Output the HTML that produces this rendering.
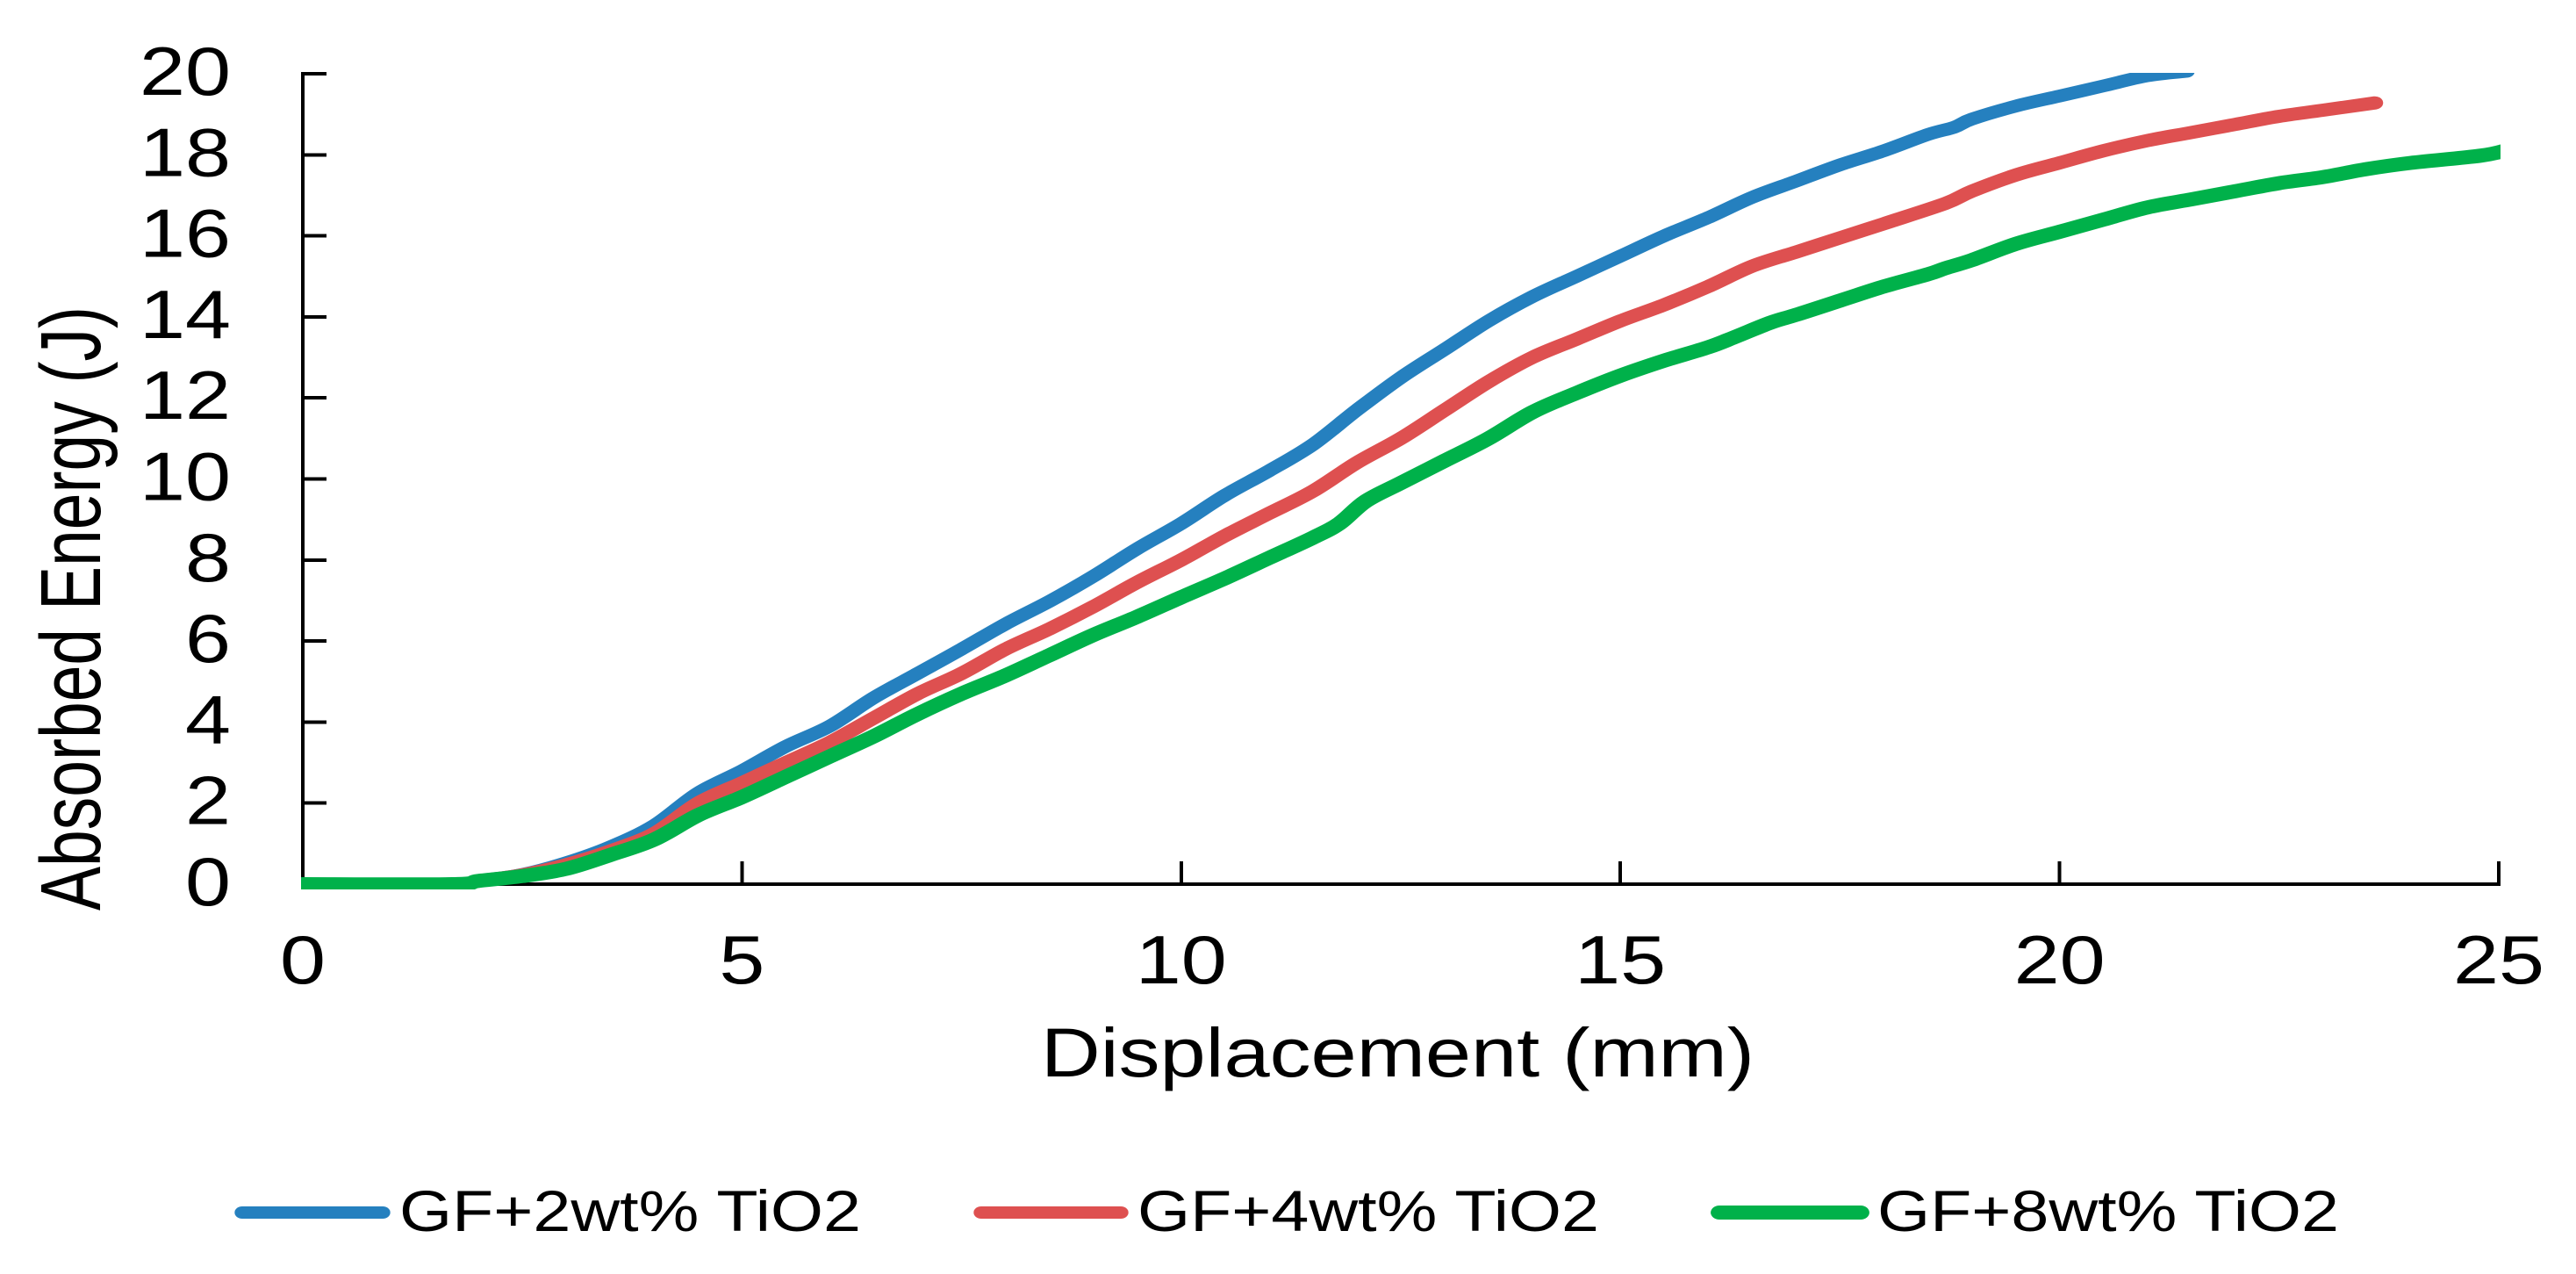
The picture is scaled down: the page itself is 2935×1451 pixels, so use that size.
<!DOCTYPE html>
<html><head><meta charset="utf-8"><title>Absorbed Energy vs Displacement</title>
<style>html,body{margin:0;padding:0;background:#fff;width:2935px;height:1451px;overflow:hidden}svg{display:block}text{font-family:"Liberation Sans",Arial,sans-serif;fill:#000}</style></head>
<body>
<svg id="chart" xmlns="http://www.w3.org/2000/svg" width="2935" height="1451" viewBox="0 0 2935 1451">
<defs><clipPath id="plot-clip"><rect x="343" y="83" width="2506" height="930"/></clipPath></defs>
<g id="axes" shape-rendering="crispEdges"></g>
<g clip-path="url(#plot-clip)"><g id="series" transform="scale(1.24,1)"></g></g>
<g id="labels"></g>
<g id="legend"></g>
</svg>
<script>
const xTicks = [0, 5, 10, 15, 20, 25];
const yTicks = [0, 2, 4, 6, 8, 10, 12, 14, 16, 18, 20];
const blueX = [0,1.7,2,2.5,3,3.5,4,4.5,5,5.5,6,6.5,7,7.5,8,8.5,9,9.5,10,10.5,11,11.5,12,12.5,13,13.5,14,14.5,15,15.5,16,16.5,17,17.5,18,18.5,18.8,19,19.5,20,20.5,21,21.45];
const blueY = [0,0,0.08,0.24,0.53,0.92,1.45,2.25,2.8,3.4,3.9,4.6,5.2,5.8,6.42,6.98,7.6,8.28,8.9,9.6,10.2,10.85,11.7,12.5,13.2,13.9,14.5,15,15.5,16,16.45,16.95,17.35,17.75,18.1,18.5,18.68,18.88,19.2,19.45,19.7,19.95,20.06];
const redX = [0,1.7,2,2.5,3,3.5,4,4.5,5,5.5,6,6.5,7,7.5,8,8.5,9,9.5,10,10.5,11,11.5,12,12.5,13,13.5,14,14.5,15,15.5,16,16.5,17,17.5,18,18.7,19,19.5,20,20.5,21,21.5,22,22.5,23,23.59];
const redY = [0,0,0.08,0.23,0.48,0.82,1.25,2,2.5,3,3.5,4.1,4.7,5.2,5.8,6.3,6.85,7.45,8,8.6,9.15,9.7,10.4,11,11.7,12.4,13,13.45,13.9,14.3,14.75,15.25,15.6,15.95,16.3,16.8,17.1,17.5,17.8,18.1,18.35,18.55,18.75,18.95,19.1,19.28];
const greenX = [0,1.7,2,2.5,3,3.5,4,4.5,5,5.5,6,6.5,7,7.5,8,8.5,9,9.5,10,10.5,11,11.5,11.8,12.1,12.5,13,13.5,14,14.5,15,15.5,16,16.3,16.7,17,17.5,18,18.5,18.7,19,19.5,20,20.5,21,21.5,22,22.5,23,23.5,24,24.8,25.1];
const greenY = [0,0,0.08,0.2,0.38,0.72,1.1,1.7,2.15,2.65,3.15,3.65,4.2,4.7,5.15,5.65,6.15,6.6,7.08,7.55,8.05,8.55,8.9,9.45,9.9,10.45,11,11.65,12.12,12.55,12.92,13.25,13.5,13.85,14.05,14.4,14.75,15.05,15.2,15.4,15.8,16.1,16.4,16.7,16.9,17.1,17.3,17.45,17.65,17.8,17.98,18.12];
const NS = 'http://www.w3.org/2000/svg';
const X0 = 345, X1 = 2847, Y0 = 1007, Y1 = 84, PEN = 1.24;
const sx = v => X0 + (v / 25) * (X1 - X0);
const sy = v => Y0 - (v / 20) * (Y0 - Y1);
function mk(tag, parent, attrs) {
  const el = document.createElementNS(NS, tag);
  for (const k in attrs) el.setAttribute(k, attrs[k]);
  parent.appendChild(el);
  return el;
}
const axes = document.getElementById('axes');
const labels = document.getElementById('labels');
const seriesG = document.getElementById('series');
const legend = document.getElementById('legend');

const yAxis = mk('line', axes, {x1: X0, x2: X0, y1: Y1 - 2, y2: Y0 + 2, stroke: '#000', 'stroke-width': 4});


const xAxis = mk('line', axes, {x1: X0, x2: X1 + 2, y1: Y0, y2: Y0, stroke: '#000', 'stroke-width': 4});



yTicks.forEach(v => {
  const t = mk('line', axes, {x1: X0, x2: X0 + 27, y1: sy(v), y2: sy(v), stroke: '#000', 'stroke-width': 4});
  
  
  const s = String(v);
  const w = s.length * 52;
  const l = mk('text', labels, {x: 263 - w, y: sy(v) + 24, 'font-size': 78, textLength: w, lengthAdjust: 'spacingAndGlyphs'});
  l.textContent = s;
  
  
});
xTicks.forEach(v => {
  const t = mk('line', axes, {x1: sx(v), x2: sx(v), y1: Y0, y2: Y0 - 26, stroke: '#000', 'stroke-width': 4});
  
  
  const s = String(v);
  const w = s.length * 52;
  const l = mk('text', labels, {x: sx(v) - w / 2, y: 1120, 'font-size': 78, textLength: w, lengthAdjust: 'spacingAndGlyphs'});
  l.textContent = s;
  
  
});

const xTitle = mk('text', labels, {x: 1186, y: 1226, 'font-size': 79, textLength: 813, lengthAdjust: 'spacingAndGlyphs'});
xTitle.textContent = 'Displacement (mm)';



const yTitle = mk('text', labels, {'font-size': 72, textLength: 688, lengthAdjust: 'spacingAndGlyphs', transform: 'translate(114,1037) scale(1.36,1) rotate(-90)'});
yTitle.textContent = 'Absorbed Energy (J)';



function pathFrom(xs, ys) {
  const px = xs.map(x => sx(x) / PEN);
  const py = ys.map(y => sy(y));
  let d = 'M' + px[0].toFixed(1) + ' ' + py[0].toFixed(1);
  for (let i = 0; i < px.length - 1; i++) {
    const a = Math.max(i - 1, 0), b = Math.min(i + 2, px.length - 1);
    const c1x = px[i] + (px[i + 1] - px[a]) / 6, c1y = py[i] + (py[i + 1] - py[a]) / 6;
    const c2x = px[i + 1] - (px[b] - px[i]) / 6, c2y = py[i + 1] - (py[b] - py[i]) / 6;
    d += ' C' + c1x.toFixed(1) + ' ' + c1y.toFixed(1) + ' ' + c2x.toFixed(1) + ' ' + c2y.toFixed(1) + ' ' + px[i + 1].toFixed(1) + ' ' + py[i + 1].toFixed(1);
  }
  return d;
}
const blueLine = mk('path', seriesG, {d: pathFrom(blueX, blueY), fill: 'none', stroke: '#2580BF', 'stroke-width': 14.5, 'stroke-linejoin': 'round', 'stroke-linecap': 'round'});


const redLine = mk('path', seriesG, {d: pathFrom(redX, redY), fill: 'none', stroke: '#DE5050', 'stroke-width': 15, 'stroke-linejoin': 'round', 'stroke-linecap': 'round'});


const greenLine = mk('path', seriesG, {d: pathFrom(greenX, greenY), fill: 'none', stroke: '#00B14A', 'stroke-width': 16, 'stroke-linejoin': 'round', 'stroke-linecap': 'round'});



const k1 = mk('line', legend, {x1: 276 / PEN, x2: 436 / PEN, y1: 1381, y2: 1381, stroke: '#2580BF', 'stroke-width': 14, 'stroke-linecap': 'round', transform: 'scale(1.24,1)'});


const k2 = mk('line', legend, {x1: 1118 / PEN, x2: 1277 / PEN, y1: 1381, y2: 1381, stroke: '#DE5050', 'stroke-width': 14, 'stroke-linecap': 'round', transform: 'scale(1.24,1)'});


const k3 = mk('line', legend, {x1: 1959 / PEN, x2: 2120 / PEN, y1: 1381, y2: 1381, stroke: '#00B14A', 'stroke-width': 16, 'stroke-linecap': 'round', transform: 'scale(1.24,1)'});



const t1 = mk('text', legend, {x: 455, y: 1402, 'font-size': 66, textLength: 526, lengthAdjust: 'spacingAndGlyphs'});
t1.textContent = 'GF+2wt% TiO2';


const t2 = mk('text', legend, {x: 1296, y: 1402, 'font-size': 66, textLength: 526, lengthAdjust: 'spacingAndGlyphs'});
t2.textContent = 'GF+4wt% TiO2';


const t3 = mk('text', legend, {x: 2139, y: 1402, 'font-size': 66, textLength: 526, lengthAdjust: 'spacingAndGlyphs'});
t3.textContent = 'GF+8wt% TiO2';


</script>
</body></html>
